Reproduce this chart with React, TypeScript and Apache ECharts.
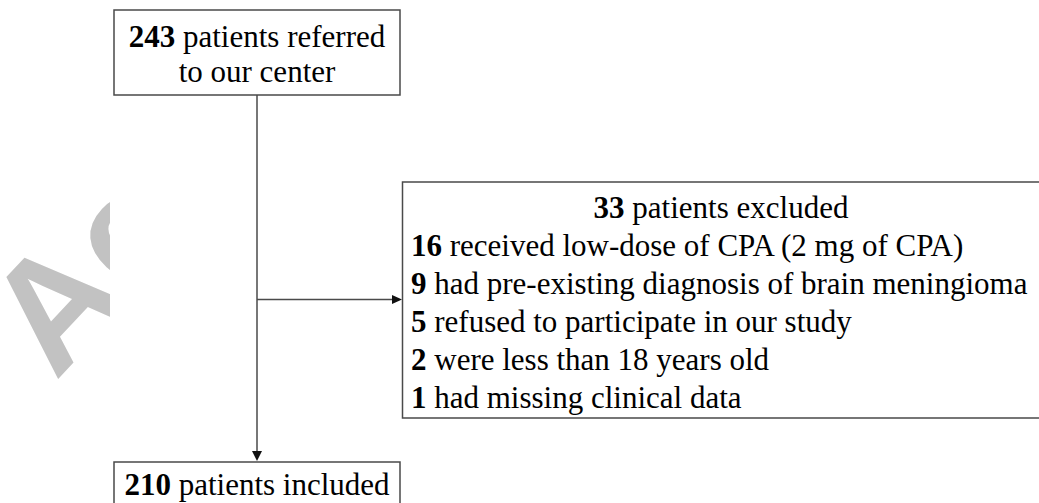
import React, { useEffect, useRef } from "react";
import * as echarts from "echarts";

// ---- data ----
const referredCount = 243;
const referredText = ["patients referred", "to our center"];
const excludedCount = 33;
const excludedText = "patients excluded";
const exclusionCounts = [16, 9, 5, 2, 1];
const exclusionReasons = [
  "received low-dose of CPA (2 mg of CPA)",
  "had pre-existing diagnosis of brain meningioma",
  "refused to participate in our study",
  "were less than 18 years old",
  "had missing clinical data",
];
const includedCount = 210;
const includedText = "patients included";
const watermarkText = "Ac";

const SERIF = "Liberation Serif";
const FS = 31;
const LINE = "#4a4a4a";

function richStyle(text: string, align: string) {
  return {
    text,
    fontFamily: SERIF,
    fontSize: FS,
    fontWeight: "normal",
    fill: "#000",
    align,
    verticalAlign: "middle",
    rich: {
      b: { fontFamily: SERIF, fontSize: FS, fontWeight: "bold", fill: "#000" },
      n: { fontFamily: SERIF, fontSize: FS, fontWeight: "normal", fill: "#000" },
    },
  };
}

export default function App() {
  const ref = useRef<HTMLDivElement>(null);
  useEffect(() => {
    if (!ref.current) return;
    const chart = echarts.init(ref.current, undefined, { renderer: "svg" });
    const cx = 257;
    const rowMids = [207, 245, 283, 321, 359, 397];
    const elements: any[] = [
      {
        type: "text",
        x: 16,
        y: 345,
        rotation: (47 * Math.PI) / 180,
        z: 0,
        style: {
          text: watermarkText,
          fontFamily: "Liberation Sans",
          fontWeight: "bold",
          fontSize: 156,
          fill: "#c2c2c2",
          align: "left",
          verticalAlign: "middle",
        },
      },
      {
        type: "rect",
        z: 1,
        shape: { x: 110, y: 0, width: 960, height: 520 },
        style: { fill: "#fff" },
      },
      // top box
      {
        type: "rect",
        z: 2,
        shape: { x: 114, y: 10, width: 286, height: 85 },
        style: { fill: "#fff", stroke: LINE, lineWidth: 1.5 },
      },
      {
        type: "text",
        z: 3,
        x: cx,
        y: 36,
        style: richStyle(`{b|${referredCount}}{n| ${referredText[0]}}`, "center"),
      },
      {
        type: "text",
        z: 3,
        x: cx,
        y: 71,
        style: richStyle(`{n|${referredText[1]}}`, "center"),
      },
      // vertical line + arrow
      {
        type: "line",
        z: 2,
        shape: { x1: cx, y1: 95, x2: cx, y2: 452 },
        style: { stroke: LINE, lineWidth: 1.5 },
      },
      {
        type: "polygon",
        z: 2,
        shape: { points: [[cx - 5, 451], [cx + 5, 451], [cx, 461]] },
        style: { fill: "#111" },
      },
      // horizontal line + arrow
      {
        type: "line",
        z: 2,
        shape: { x1: cx, y1: 299.5, x2: 393, y2: 299.5 },
        style: { stroke: LINE, lineWidth: 1.5 },
      },
      {
        type: "polygon",
        z: 2,
        shape: { points: [[392, 295], [392, 304], [402, 299.5]] },
        style: { fill: "#111" },
      },
      // right box
      {
        type: "rect",
        z: 2,
        shape: { x: 402.5, y: 182, width: 660, height: 236 },
        style: { fill: "#fff", stroke: LINE, lineWidth: 1.5 },
      },
      {
        type: "text",
        z: 3,
        x: 721,
        y: rowMids[0],
        style: richStyle(`{b|${excludedCount}}{n| ${excludedText}}`, "center"),
      },
      ...exclusionCounts.map((c, i) => ({
        type: "text",
        z: 3,
        x: 411,
        y: rowMids[i + 1],
        style: richStyle(`{b|${c}}{n| ${exclusionReasons[i]}}`, "left"),
      })),
      // bottom box
      {
        type: "rect",
        z: 2,
        shape: { x: 114, y: 462, width: 286, height: 70 },
        style: { fill: "#fff", stroke: LINE, lineWidth: 1.5 },
      },
      {
        type: "text",
        z: 3,
        x: cx,
        y: 484,
        style: richStyle(`{b|${includedCount}}{n| ${includedText}}`, "center"),
      },
    ];
    chart.setOption({
      animation: false,
      backgroundColor: "#fff",
      graphic: { elements },
    });
    return () => chart.dispose();
  }, []);
  return (
    <div
      ref={ref}
      style={{ position: "fixed", left: 0, top: 0, width: 1039, height: 503 }}
    />
  );
}
